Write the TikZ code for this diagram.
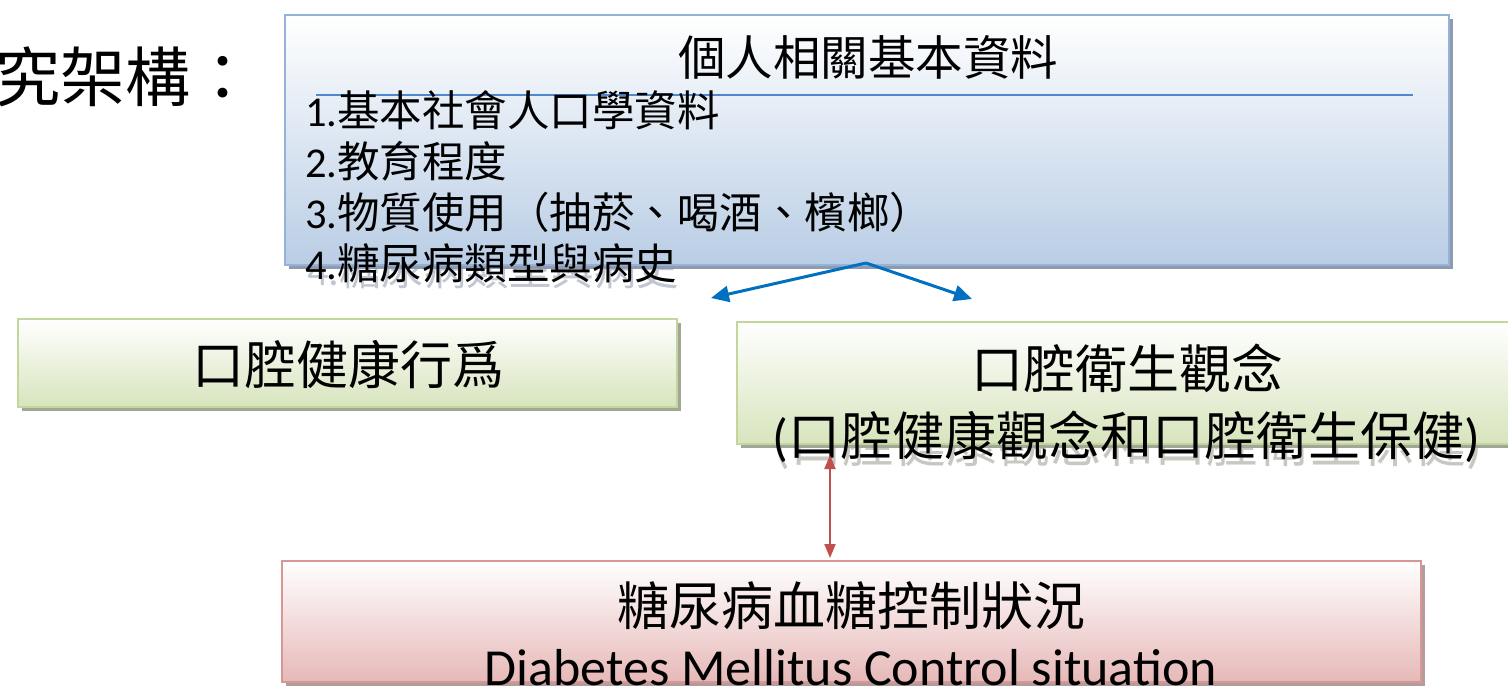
\documentclass[tikz,border=0pt]{standalone}
\usepackage{fontspec}
\newfontfamily\cjk{Noto Sans CJK TC}
\newfontfamily\lat{Carlito}
\usetikzlibrary{arrows.meta,shadows}
\definecolor{bluebd}{HTML}{95B3D7}
\definecolor{bluebot}{HTML}{B9CDE5}
\definecolor{bluesh}{HTML}{8E9AAF}
\definecolor{sepblue}{HTML}{4F88CC}
\definecolor{arrblue}{HTML}{0070C0}
\definecolor{greenbd}{HTML}{C3D69B}
\definecolor{greenbot}{HTML}{D7E4BD}
\definecolor{greensh}{HTML}{A3A697}
\definecolor{redbd}{HTML}{D99694}
\definecolor{redbot}{HTML}{E6B9B8}
\definecolor{redsh}{HTML}{B39C9C}
\definecolor{arrred}{HTML}{C0504D}
\begin{document}
\begin{tikzpicture}[x=1pt,y=-1pt,
  boxbase/.style={rectangle, draw, line width=1.6pt, inner sep=0pt, top color=white},
  bluebox/.style={boxbase, draw=bluebd, bottom color=bluebot,
    drop shadow={shadow xshift=4pt, shadow yshift=-4pt, fill=bluesh, opacity=1}},
  greenbox/.style={boxbase, draw=greenbd, bottom color=greenbot,
    drop shadow={shadow xshift=4pt, shadow yshift=-4pt, fill=greensh, opacity=1}},
  redbox/.style={boxbase, draw=redbd, bottom color=redbot,
    drop shadow={shadow xshift=4pt, shadow yshift=-4pt, fill=redsh, opacity=1}},
  txt/.style={inner sep=0pt, text=black},
  bigtxt/.style={txt, font=\cjk\fontsize{52}{52}\selectfont},
  listtxt/.style={txt, anchor=west, font=\cjk\fontsize{42.5}{42.5}\selectfont},
  bluetxtsh/.style={text=bluesh, text opacity=0.55},
  greentxtsh/.style={text=greensh, text opacity=0.6},
  bluearrow/.style={draw=arrblue, line width=3pt, -{Triangle[length=18pt,width=16pt]}},
  redarrow/.style={draw=arrred, line width=2pt, {Triangle[length=14pt,width=11pt]}-{Triangle[length=14pt,width=11pt]}}
]
\useasboundingbox (0,0) rectangle (1508,689);
\fill[white] (0,0) rectangle (1508,689);

% title at left
\node[txt, anchor=west, font=\cjk\fontsize{65}{65}\selectfont] (maintitle) at (-5,77) {究架構：};

% text shadows (behind the boxes)
\node[listtxt, bluetxtsh] (i4shadow) at (307,269) {{\lat 4.}糖尿病類型與病史};
\node[bigtxt, greentxtsh] (concept2shadow) at (1128,444) {{\lat (}口腔健康觀念和口腔衛生保健{\lat )}};

% top info box
\node[bluebox, minimum width=1164pt, minimum height=250pt] (info) at (867,140) {};
\node[txt, font=\cjk\fontsize{47.5}{47.5}\selectfont] (infotitle) at (868,57) {個人相關基本資料};
\draw[sepblue, line width=1.5pt] (316,95) -- (1413,95);
\node[listtxt] (i1) at (305,110) {{\lat 1.}基本社會人口學資料};
\node[listtxt] (i2) at (305,161) {{\lat 2.}教育程度};
\node[listtxt] (i3) at (305,212) {{\lat 3.}物質使用（抽菸、喝酒、檳榔）};
\node[listtxt] (i4) at (305,263) {{\lat 4.}糖尿病類型與病史};

% blue arrows
\coordinate (split) at (866,263);
\coordinate (lt) at (711,298);
\coordinate (rt) at (972,299);
\draw[bluearrow] (split) -- (lt);
\draw[bluearrow] (split) -- (rt);

% green boxes
\node[greenbox, minimum width=659pt, minimum height=88pt] (behav) at (347.5,363) {};
\node[bigtxt] (behavtxt) at (348,365) {口腔健康行爲};
\node[greenbox, minimum width=783pt, minimum height=122pt] (concept) at (1128.5,383) {};
\node[bigtxt] (concept1) at (1127,368) {口腔衛生觀念};
\node[bigtxt] (concept2) at (1126,437) {{\lat (}口腔健康觀念和口腔衛生保健{\lat )}};

% red arrow
\coordinate (ra1) at (830,455);
\coordinate (ra2) at (830,558);
\draw[redarrow] (ra1) -- (ra2);

% red box
\node[redbox, minimum width=1139pt, minimum height=121pt] (dm) at (851.5,621.5) {};
\node[bigtxt] (dm1) at (851,606) {糖尿病血糖控制狀況};
\node[txt, font=\lat\fontsize{52}{52}\selectfont] (dm2) at (851,668) {Diabetes Mellitus Control situation};
\end{tikzpicture}
\end{document}
